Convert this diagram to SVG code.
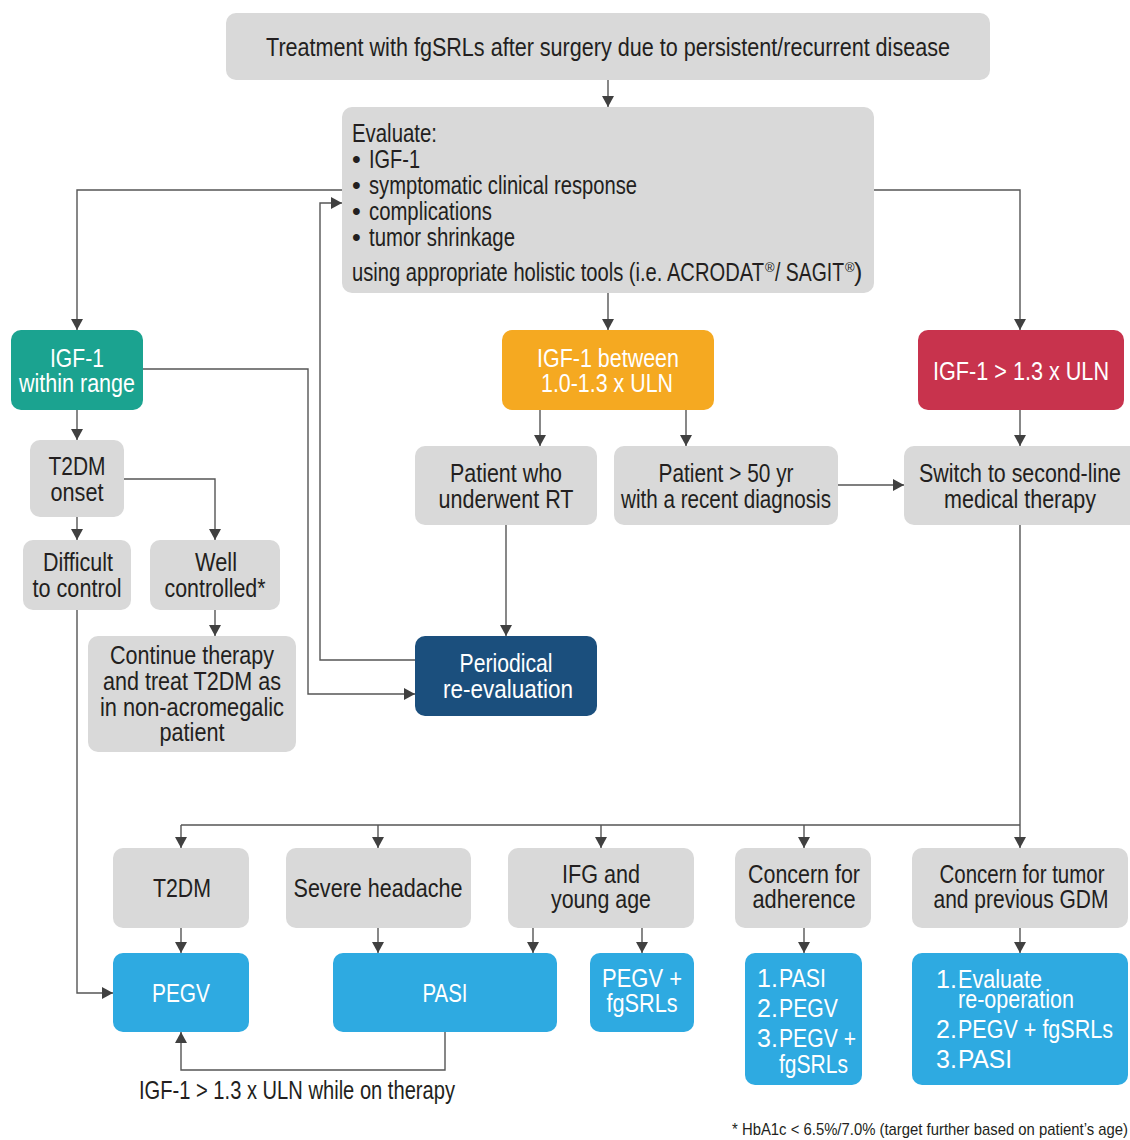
<svg xmlns="http://www.w3.org/2000/svg" width="1130" height="1140" viewBox="0 0 1130 1140">
<style>
text{font-family:"Liberation Sans",Arial,sans-serif;font-size:25px;fill:#231f20}
.c{text-anchor:middle}
.w{fill:#ffffff}
.sup{font-size:13px}
.g{fill:#d9d9d9}
.teal{fill:#1ba390}
.org{fill:#f5a921}
.red{fill:#c8334d}
.dk{fill:#1b4f7d}
.bl{fill:#2eaae1}
.ln{fill:none;stroke:#555555;stroke-width:1.4}
.ar{marker-end:url(#ah)}
.fn{font-size:17px}
</style>
<defs>
<marker id="ah" markerUnits="userSpaceOnUse" markerWidth="12" markerHeight="12" refX="11" refY="6" orient="auto">
<path d="M0,0 L11,6 L0,12 z" fill="#404040"/>
</marker>
</defs>
<rect width="1130" height="1140" fill="#ffffff"/>

<g id="connectors">
<path class="ln ar" d="M608,80 V107"/>
<path class="ln ar" d="M342,190 H77 V330"/>
<path class="ln ar" d="M874,190 H1020 V330"/>
<path class="ln ar" d="M608,293 V330"/>
<path class="ln ar" d="M143,369 H308 V694 H415"/>
<path class="ln ar" d="M415,660 H320 V203 H342"/>
<path class="ln ar" d="M77,410 V440"/>
<path class="ln ar" d="M124,479 H215 V540"/>
<path class="ln ar" d="M77,517 V540"/>
<path class="ln ar" d="M215,610 V636"/>
<path class="ln ar" d="M77,610 V993 H113"/>
<path class="ln ar" d="M540,410 V446"/>
<path class="ln ar" d="M686,410 V446"/>
<path class="ln ar" d="M838,485 H904"/>
<path class="ln ar" d="M506,525 V636"/>
<path class="ln ar" d="M1020,410 V446"/>
<path class="ln ar" d="M1020,525 V848"/>
<path class="ln" d="M181,825 H1020"/>
<path class="ln ar" d="M181,825 V848"/>
<path class="ln ar" d="M378,825 V848"/>
<path class="ln ar" d="M601,825 V848"/>
<path class="ln ar" d="M804,825 V848"/>
<path class="ln ar" d="M181,928 V953"/>
<path class="ln ar" d="M378,928 V953"/>
<path class="ln ar" d="M533,928 V953"/>
<path class="ln ar" d="M642,928 V953"/>
<path class="ln ar" d="M804,928 V953"/>
<path class="ln ar" d="M1020,928 V953"/>
<path class="ln ar" d="M445,1032 V1070 H181 V1032"/>
<text x="139" y="1099" textLength="316" lengthAdjust="spacingAndGlyphs">IGF-1 &gt; 1.3 x ULN while on therapy</text>
</g>

<g id="n-top">
<rect class="g" x="226" y="13" width="764" height="67" rx="10"/>
<text x="266" y="56" textLength="684" lengthAdjust="spacingAndGlyphs">Treatment with fgSRLs after surgery due to persistent/recurrent disease</text>
</g>

<g id="n-evaluate">
<rect class="g" x="342" y="107" width="532" height="186" rx="10"/>
<text x="352" y="142" textLength="85" lengthAdjust="spacingAndGlyphs">Evaluate:</text>
<text x="352" y="168">•</text><text x="369" y="168" textLength="51" lengthAdjust="spacingAndGlyphs">IGF-1</text>
<text x="352" y="194">•</text><text x="369" y="194" textLength="268" lengthAdjust="spacingAndGlyphs">symptomatic clinical response</text>
<text x="352" y="220">•</text><text x="369" y="220" textLength="123" lengthAdjust="spacingAndGlyphs">complications</text>
<text x="352" y="246">•</text><text x="369" y="246" textLength="146" lengthAdjust="spacingAndGlyphs">tumor shrinkage</text>
<text x="352" y="281" textLength="412" lengthAdjust="spacingAndGlyphs">using appropriate holistic tools (i.e. ACRODAT</text>
<text class="sup" x="765" y="272">®</text>
<text x="775" y="281" textLength="69" lengthAdjust="spacingAndGlyphs">/ SAGIT</text>
<text class="sup" x="845" y="272">®</text>
<text x="854" y="281">)</text>
</g>

<g id="n-within">
<rect class="teal" x="11" y="330" width="132" height="80" rx="10"/>
<text class="c w" x="77" y="367" textLength="54" lengthAdjust="spacingAndGlyphs">IGF-1</text>
<text class="c w" x="77" y="392" textLength="116" lengthAdjust="spacingAndGlyphs">within range</text>
</g>

<g id="n-between">
<rect class="org" x="502" y="330" width="212" height="80" rx="10"/>
<text class="c w" x="608" y="367" textLength="142" lengthAdjust="spacingAndGlyphs">IGF-1 between</text>
<text class="c w" x="607" y="392" textLength="132" lengthAdjust="spacingAndGlyphs">1.0-1.3 x ULN</text>
</g>

<g id="n-above">
<rect class="red" x="918" y="330" width="206" height="80" rx="10"/>
<text class="c w" x="1021" y="380" textLength="176" lengthAdjust="spacingAndGlyphs">IGF-1 &gt; 1.3 x ULN</text>
</g>

<g id="n-t2dm-onset">
<rect class="g" x="30" y="440" width="94" height="77" rx="10"/>
<text class="c" x="77" y="475" textLength="57" lengthAdjust="spacingAndGlyphs">T2DM</text>
<text class="c" x="77" y="501" textLength="53" lengthAdjust="spacingAndGlyphs">onset</text>
</g>

<g id="n-difficult">
<rect class="g" x="23" y="540" width="108" height="70" rx="10"/>
<text class="c" x="78" y="571" textLength="70" lengthAdjust="spacingAndGlyphs">Difficult</text>
<text class="c" x="77" y="597" textLength="89" lengthAdjust="spacingAndGlyphs">to control</text>
</g>

<g id="n-well">
<rect class="g" x="150" y="540" width="130" height="70" rx="10"/>
<text class="c" x="216" y="571" textLength="42" lengthAdjust="spacingAndGlyphs">Well</text>
<text class="c" x="215" y="597" textLength="101" lengthAdjust="spacingAndGlyphs">controlled*</text>
</g>

<g id="n-continue">
<rect class="g" x="88" y="636" width="208" height="116" rx="10"/>
<text class="c" x="192" y="664" textLength="164" lengthAdjust="spacingAndGlyphs">Continue therapy</text>
<text class="c" x="192" y="690" textLength="178" lengthAdjust="spacingAndGlyphs">and treat T2DM as</text>
<text class="c" x="192" y="716" textLength="184" lengthAdjust="spacingAndGlyphs">in non-acromegalic</text>
<text class="c" x="192" y="741" textLength="65" lengthAdjust="spacingAndGlyphs">patient</text>
</g>

<g id="n-rt">
<rect class="g" x="415" y="446" width="182" height="79" rx="10"/>
<text class="c" x="506" y="482" textLength="112" lengthAdjust="spacingAndGlyphs">Patient who</text>
<text class="c" x="506" y="508" textLength="135" lengthAdjust="spacingAndGlyphs">underwent RT</text>
</g>

<g id="n-over50">
<rect class="g" x="614" y="446" width="224" height="79" rx="10"/>
<text class="c" x="726" y="482" textLength="135" lengthAdjust="spacingAndGlyphs">Patient &gt; 50 yr</text>
<text class="c" x="726" y="508" textLength="210" lengthAdjust="spacingAndGlyphs">with a recent diagnosis</text>
</g>

<g id="n-switch">
<rect class="g" x="904" y="446" width="236" height="79" rx="10"/>
<text class="c" x="1020" y="482" textLength="202" lengthAdjust="spacingAndGlyphs">Switch to second-line</text>
<text class="c" x="1020" y="508" textLength="152" lengthAdjust="spacingAndGlyphs">medical therapy</text>
</g>

<g id="n-periodical">
<rect class="dk" x="415" y="636" width="182" height="80" rx="10"/>
<text class="c w" x="506" y="672" textLength="93" lengthAdjust="spacingAndGlyphs">Periodical</text>
<text class="c w" x="508" y="698" textLength="130" lengthAdjust="spacingAndGlyphs">re-evaluation</text>
</g>

<g id="n-t2dm">
<rect class="g" x="113" y="848" width="136" height="80" rx="10"/>
<text class="c" x="182" y="897" textLength="58" lengthAdjust="spacingAndGlyphs">T2DM</text>
</g>

<g id="n-headache">
<rect class="g" x="286" y="848" width="185" height="80" rx="10"/>
<text class="c" x="378" y="897" textLength="169" lengthAdjust="spacingAndGlyphs">Severe headache</text>
</g>

<g id="n-ifg">
<rect class="g" x="508" y="848" width="186" height="80" rx="10"/>
<text class="c" x="601" y="883" textLength="78" lengthAdjust="spacingAndGlyphs">IFG and</text>
<text class="c" x="601" y="908" textLength="100" lengthAdjust="spacingAndGlyphs">young age</text>
</g>

<g id="n-adherence">
<rect class="g" x="735" y="848" width="136" height="80" rx="10"/>
<text class="c" x="804" y="883" textLength="112" lengthAdjust="spacingAndGlyphs">Concern for</text>
<text class="c" x="804" y="908" textLength="103" lengthAdjust="spacingAndGlyphs">adherence</text>
</g>

<g id="n-tumor">
<rect class="g" x="912" y="848" width="216" height="80" rx="10"/>
<text class="c" x="1022" y="883" textLength="165" lengthAdjust="spacingAndGlyphs">Concern for tumor</text>
<text class="c" x="1021" y="908" textLength="175" lengthAdjust="spacingAndGlyphs">and previous GDM</text>
</g>

<g id="n-pegv">
<rect class="bl" x="113" y="953" width="136" height="79" rx="10"/>
<text class="c w" x="181" y="1002" textLength="58" lengthAdjust="spacingAndGlyphs">PEGV</text>
</g>

<g id="n-pasi">
<rect class="bl" x="333" y="953" width="224" height="79" rx="10"/>
<text class="c w" x="445" y="1002" textLength="45" lengthAdjust="spacingAndGlyphs">PASI</text>
</g>

<g id="n-pegv-fg">
<rect class="bl" x="590" y="953" width="104" height="79" rx="10"/>
<text class="c w" x="642" y="987" textLength="80" lengthAdjust="spacingAndGlyphs">PEGV +</text>
<text class="c w" x="642" y="1012" textLength="71" lengthAdjust="spacingAndGlyphs">fgSRLs</text>
</g>

<g id="n-adherence-opts">
<rect class="bl" x="745" y="953" width="117" height="132" rx="10"/>
<text class="w" x="757" y="987">1.</text><text class="w" x="779" y="987" textLength="47" lengthAdjust="spacingAndGlyphs">PASI</text>
<text class="w" x="757" y="1017">2.</text><text class="w" x="779" y="1017" textLength="59" lengthAdjust="spacingAndGlyphs">PEGV</text>
<text class="w" x="757" y="1047">3.</text><text class="w" x="779" y="1047" textLength="77" lengthAdjust="spacingAndGlyphs">PEGV +</text>
<text class="w" x="779" y="1073" textLength="69" lengthAdjust="spacingAndGlyphs">fgSRLs</text>
</g>

<g id="n-tumor-opts">
<rect class="bl" x="912" y="953" width="216" height="132" rx="10"/>
<text class="w" x="936" y="988">1.</text><text class="w" x="958" y="988" textLength="84" lengthAdjust="spacingAndGlyphs">Evaluate</text>
<text class="w" x="958" y="1008" textLength="116" lengthAdjust="spacingAndGlyphs">re-operation</text>
<text class="w" x="936" y="1038">2.</text><text class="w" x="958" y="1038" textLength="155" lengthAdjust="spacingAndGlyphs">PEGV + fgSRLs</text>
<text class="w" x="936" y="1068">3.</text><text class="w" x="958" y="1068" textLength="54" lengthAdjust="spacingAndGlyphs">PASI</text>
</g>

<text class="fn" x="732" y="1135" textLength="396" lengthAdjust="spacingAndGlyphs">* HbA1c &lt; 6.5%/7.0% (target further based on patient’s age)</text>
</svg>
